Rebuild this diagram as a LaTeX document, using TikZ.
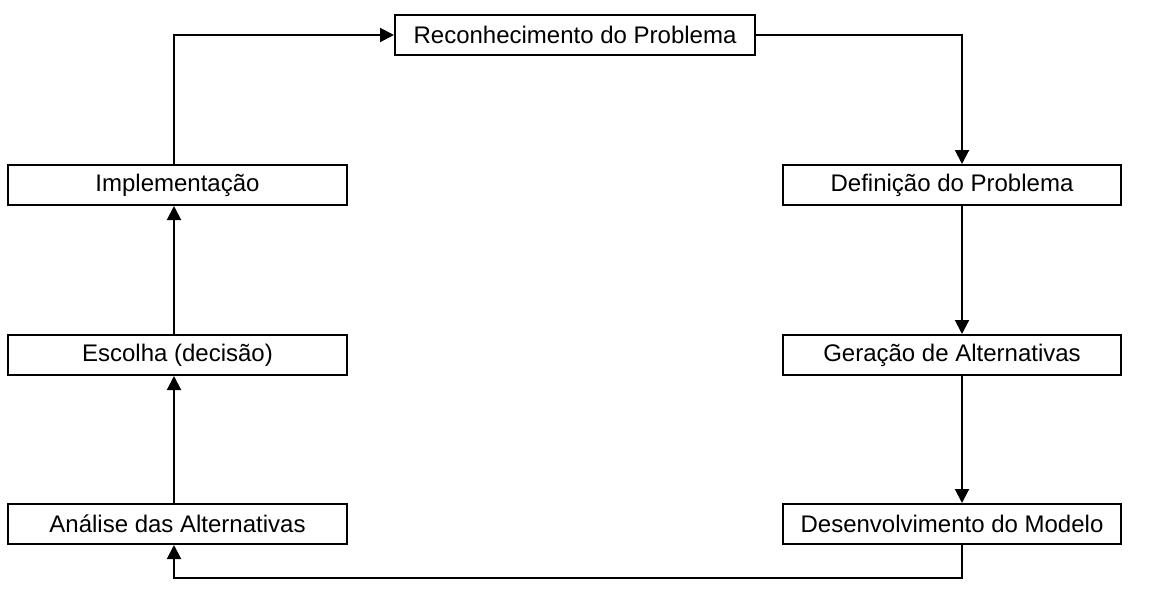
\documentclass[tikz,border=0pt]{standalone}
\usepackage{fontspec}
\setmainfont{Liberation Sans}
\usetikzlibrary{arrows.meta}
\begin{document}
\begin{tikzpicture}[x=0.75pt,y=-0.75pt,
  stage/.style={draw=black, line width=1.5pt, minimum width=254pt, minimum height=30pt,
    inner sep=0pt, font=\fontsize{18pt}{20pt}\selectfont, anchor=center},
  flow/.style={line width=1.5pt, -{Triangle[length=10.5pt,width=10.5pt]}}]
\useasboundingbox (0,0) rectangle (1160,610);

% stages of the decision process
\node[stage, minimum width=270pt] (reco) at (575,35) {Reconhecimento do Problema};
\node[stage] (impl) at (177.5,185) {Implementação};
\node[stage] (esc)  at (177.5,355) {Escolha (decisão)};
\node[stage] (ana)  at (177.5,524) {Análise das Alternativas};
\node[stage] (def)  at (952,185) {Definição do Problema};
\node[stage] (ger)  at (952,355) {Geração de Alternativas};
\node[stage] (des)  at (952,524) {Desenvolvimento do Modelo};

% vertical lanes of the connectors and the bottom return line
\coordinate (lx) at (174,0);
\coordinate (rx) at (962,0);
\coordinate (bot) at (0,578);

% right-hand side, top to bottom
\draw[flow] (reco.east) -| (def.north -| rx);
\draw[flow] (def.south -| rx) -- (ger.north -| rx);
\draw[flow] (ger.south -| rx) -- (des.north -| rx);

% return along the bottom
\draw[flow] (des.south -| rx) -- (rx |- bot) -| (ana.south -| lx);

% left-hand side, bottom to top
\draw[flow] (ana.north -| lx) -- (esc.south -| lx);
\draw[flow] (esc.north -| lx) -- (impl.south -| lx);
\draw[flow] (impl.north -| lx) |- (reco.west);
\end{tikzpicture}
\end{document}
